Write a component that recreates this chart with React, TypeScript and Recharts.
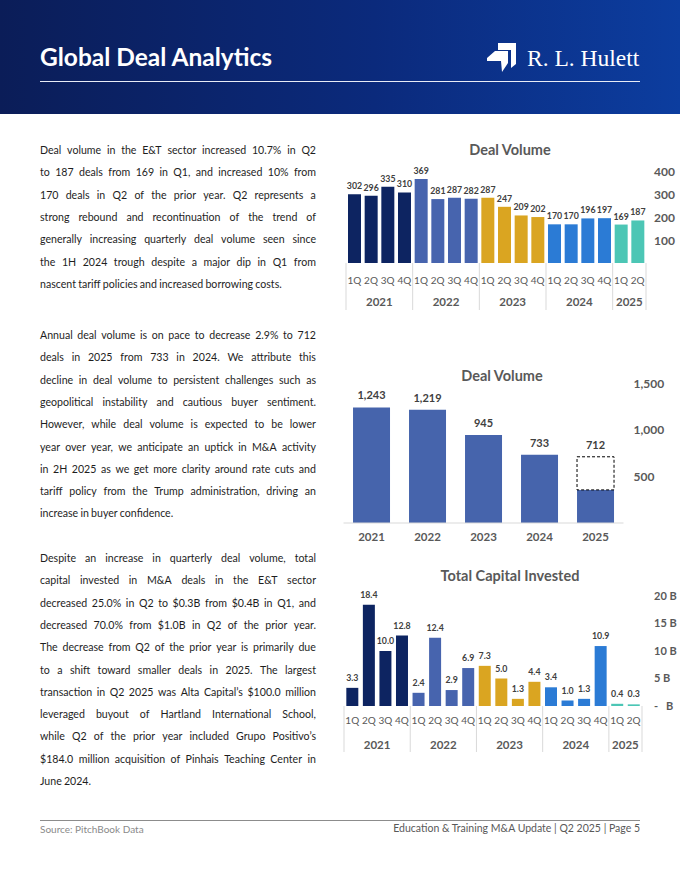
import React from 'react';
import { BarChart, Bar, XAxis, YAxis, Cell, LabelList } from 'recharts';

// quarterly series (Deal Volume + Total Capital Invested)
const quarterLabels = ['1Q', '2Q', '3Q', '4Q', '1Q', '2Q', '3Q', '4Q', '1Q', '2Q', '3Q', '4Q', '1Q', '2Q', '3Q', '4Q', '1Q', '2Q'];
const quarterYears = ['2021', '2021', '2021', '2021', '2022', '2022', '2022', '2022', '2023', '2023', '2023', '2023', '2024', '2024', '2024', '2024', '2025', '2025'];
const quarterlyDeals = [302, 296, 335, 310, 369, 281, 287, 282, 287, 247, 209, 202, 170, 170, 196, 197, 169, 187];
const capitalInvestedB = [3.3, 18.4, 10.0, 12.8, 2.4, 12.4, 2.9, 6.9, 7.3, 5.0, 1.3, 4.4, 3.4, 1.0, 1.3, 10.9, 0.4, 0.3];

// annual series
const annualYears = ['2021', '2022', '2023', '2024', '2025'];
const annualDeals = [1243, 1219, 945, 733, 356];
const annualProjected = [0, 0, 0, 0, 356];
const annualTotal = [1243, 1219, 945, 733, 712];

const dealTicks = [100, 200, 300, 400];
const annualTicks = [500, 1000, 1500];
const capitalTicks = [0, 5, 10, 15, 20];

const yearColors: Record<string, string> = {
  '2021': '#0d2461',
  '2022': '#4764ae',
  '2023': '#daa521',
  '2024': '#2b7bd5',
  '2025': '#4cc6b5',
};

const quarterData = quarterLabels.map((q, i) => ({
  id: `${quarterYears[i]}-${q}`,
  year: quarterYears[i],
  deals: quarterlyDeals[i],
  capital: capitalInvestedB[i],
}));

const annualData = annualYears.map((y, i) => ({
  year: y,
  actual: annualDeals[i],
  projected: annualProjected[i],
  total: annualTotal[i],
}));

const FONT = 'Lato, "Open Sans", sans-serif';
const GRAY = '#595959';

const para1 = [
  'Deal volume in the E&T sector increased 10.7% in Q2',
  'to 187 deals from 169 in Q1, and increased 10% from',
  '170 deals in Q2 of the prior year. Q2 represents a',
  'strong rebound and recontinuation of the trend of',
  'generally increasing quarterly deal volume seen since',
  'the 1H 2024 trough despite a major dip in Q1 from',
  'nascent tariff policies and increased borrowing costs.',
];
const para2 = [
  'Annual deal volume is on pace to decrease 2.9% to 712',
  'deals in 2025 from 733 in 2024. We attribute this',
  'decline in deal volume to persistent challenges such as',
  'geopolitical instability and cautious buyer sentiment.',
  'However, while deal volume is expected to be lower',
  'year over year, we anticipate an uptick in M&A activity',
  'in 2H 2025 as we get more clarity around rate cuts and',
  'tariff policy from the Trump administration, driving an',
  'increase in buyer confidence.',
];
const para3 = [
  'Despite an increase in quarterly deal volume, total',
  'capital invested in M&A deals in the E&T sector',
  'decreased 25.0% in Q2 to $0.3B from $0.4B in Q1, and',
  'decreased 70.0% from $1.0B in Q2 of the prior year.',
  'The decrease from Q2 of the prior year is primarily due',
  'to a shift toward smaller deals in 2025. The largest',
  'transaction in Q2 2025 was Alta Capital\u2019s $100.0 million',
  'leveraged buyout of Hartland International School,',
  'while Q2 of the prior year included Grupo Positivo\u2019s',
  '$184.0 million acquisition of Pinhais Teaching Center in',
  'June 2024.',
];

function Paragraph({ lines, top }: { lines: string[]; top: number }) {
  return (
    <>
      {lines.map((line, i) => {
        const last = i === lines.length - 1;
        return (
          <div
            key={i}
            style={{
              position: 'absolute',
              left: 40,
              top: top + i * 22.3 - 8,
              width: 276,
              height: 16,
              lineHeight: '16px',
              fontSize: 10.6,
              color: '#1e1e1e',
              display: 'flex',
              justifyContent: last ? 'flex-start' : 'space-between',
              gap: last ? 2.2 : 0,
              whiteSpace: 'nowrap',
            }}
          >
            {line.split(' ').map((w, j) => (
              <span key={j}>{w}</span>
            ))}
          </div>
        );
      })}
    </>
  );
}

// two-level category tick: quarter label, year label and group separators
function GroupTick(props: any) {
  const { x, y, index, payload, qDy, yearDy, lineLen, band } = props;
  const i = typeof index === 'number' ? index : payload.index;
  const half = payload && payload.offset > 0 ? payload.offset : band / 2;
  const year = quarterYears[i];
  const isStart = i === 0 || quarterYears[i - 1] !== year;
  const isEnd = i === quarterYears.length - 1;
  let groupSize = 0;
  if (isStart) {
    for (let j = i; j < quarterYears.length && quarterYears[j] === year; j++) groupSize++;
  }
  return (
    <g>
      <text x={x} y={y + qDy} textAnchor="middle" fontSize={10} fill={GRAY}>
        {quarterLabels[i]}
      </text>
      {isStart && <line x1={x - half} x2={x - half} y1={y} y2={y + lineLen} stroke="#d9d9d9" />}
      {isStart && (
        <text x={x - half + groupSize * half} y={y + yearDy} textAnchor="middle" fontSize={11.5} fontWeight={700} fill={GRAY}>
          {year}
        </text>
      )}
      {isEnd && <line x1={x + half} x2={x + half} y1={y} y2={y + lineLen} stroke="#d9d9d9" />}
    </g>
  );
}

function Title({ text, cx, top }: { text: string; cx: number; top: number }) {
  return (
    <div
      style={{
        position: 'absolute',
        left: cx - 120,
        top,
        width: 240,
        textAlign: 'center',
        fontSize: 14.5,
        fontWeight: 700,
        color: GRAY,
        lineHeight: '18px',
      }}
    >
      {text}
    </div>
  );
}

const axisTick = { fontSize: 12, fontWeight: 700, fill: GRAY };
const labelStyle = { fontSize: 8.8, fontWeight: 700, fill: '#404040' };

// annual labels: actual bars carry the label unless a projection is stacked on top
function AnnualLabel(props: any) {
  const { x, y, width, index, value } = props;
  if (annualProjected[index] > 0) return null;
  return (
    <text x={x + width / 2} y={y - 8} textAnchor="middle" fontSize={11} fontWeight={700} fill="#404040">
      {Number(value).toLocaleString('en-US')}
    </text>
  );
}

export default function App() {
  return (
    <div
      style={{
        position: 'absolute',
        left: 0,
        top: 0,
        width: 680,
        height: 880,
        overflow: 'hidden',
        background: '#ffffff',
        fontFamily: FONT,
      }}
    >
      {/* header */}
      <div
        style={{
          position: 'absolute',
          left: 0,
          top: 0,
          width: 680,
          height: 114,
          background: 'linear-gradient(90deg, #0b1d58 0%, #0b2a7c 55%, #0c3d9f 100%)',
        }}
      />
      <div style={{ position: 'absolute', left: 40, top: 42, fontSize: 24.5, fontWeight: 700, color: '#fff', lineHeight: '30px', whiteSpace: 'nowrap' }}>
        Global Deal Analytics
      </div>
      <div style={{ position: 'absolute', left: 40, top: 81, width: 600, height: 1, background: '#e8ecf6' }} />
      <svg style={{ position: 'absolute', left: 0, top: 0 }} width={680} height={114}>
        <polygon points="498,43 516,43 516,64 511,68 511,50 498,50" fill="#fff" />
        <polygon points="487,58 495,51 508,51 508,63 502,72 501,61 487,61" fill="#fff" />
      </svg>
      <div
        style={{
          position: 'absolute',
          left: 527,
          top: 45,
          fontSize: 23.5,
          color: '#fff',
          fontFamily: '"Liberation Serif", "DejaVu Serif", serif',
          lineHeight: '27px',
          whiteSpace: 'nowrap',
        }}
      >
        R. L. Hulett
      </div>

      {/* text column */}
      <Paragraph lines={para1} top={150} />
      <Paragraph lines={para2} top={335} />
      <Paragraph lines={para3} top={558} />

      {/* quarterly deal volume */}
      <Title text="Deal Volume" cx={510} top={141} />
      <div style={{ position: 'absolute', left: 340, top: 135 }}>
        <BarChart width={340} height={175} data={quarterData} margin={{ top: 37, right: 0, left: 6, bottom: 0 }} barCategoryGap="12%">
          <XAxis
            dataKey="id"
            height={47}
            interval={0}
            axisLine={false}
            tickLine={false}
            tickSize={0}
            tickMargin={0}
            tick={(p: any) => <GroupTick {...p} qDy={21} yearDy={43} lineLen={47} band={303 / 18} />}
          />
          <YAxis
            orientation="right"
            width={34}
            domain={[0, 400]}
            ticks={dealTicks}
            axisLine={false}
            tickLine={false}
            tick={axisTick}
          />
          <Bar dataKey="deals" isAnimationActive={false}>
            {quarterData.map((d) => (
              <Cell key={d.id} fill={yearColors[d.year]} />
            ))}
            <LabelList dataKey="deals" position="top" offset={5} style={labelStyle} />
          </Bar>
        </BarChart>
      </div>

      {/* annual deal volume */}
      <Title text="Deal Volume" cx={502} top={367} />
      <div style={{ position: 'absolute', left: 340, top: 360 }}>
        <BarChart width={340} height={188} data={annualData} margin={{ top: 23.5, right: 16.5, left: 3.5, bottom: 0 }} barCategoryGap="17%">
          <XAxis
            dataKey="year"
            height={25}
            axisLine={{ stroke: '#d9d9d9' }}
            tickLine={false}
            tickMargin={4}
            tick={{ fontSize: 11.5, fontWeight: 700, fill: GRAY }}
          />
          <YAxis
            orientation="right"
            width={40}
            domain={[0, 1500]}
            ticks={annualTicks}
            axisLine={false}
            tickLine={false}
            tickMargin={4}
            tick={axisTick}
            tickFormatter={(v: number) => v.toLocaleString('en-US')}
          />
          <Bar dataKey="actual" stackId="a" fill="#4664ac" isAnimationActive={false}>
            <LabelList dataKey="total" content={AnnualLabel} />
          </Bar>
          <Bar dataKey="projected" stackId="a" fill="#ffffff" stroke="#000000" strokeDasharray="3 2" strokeWidth={1} isAnimationActive={false}>
            <LabelList
              dataKey="total"
              position="top"
              offset={8}
              style={{ fontSize: 11, fontWeight: 700, fill: '#404040' }}
              formatter={(v: any) => Number(v).toLocaleString('en-US')}
            />
          </Bar>
        </BarChart>
      </div>

      {/* total capital invested */}
      <Title text="Total Capital Invested" cx={510} top={567} />
      <div style={{ position: 'absolute', left: 340, top: 560 }}>
        <BarChart width={340} height={193} data={quarterData} margin={{ top: 36, right: 0, left: 4, bottom: 0 }} barCategoryGap="14%">
          <XAxis
            dataKey="id"
            height={47}
            interval={0}
            axisLine={false}
            tickLine={false}
            tickSize={0}
            tickMargin={0}
            tick={(p: any) => <GroupTick {...p} qDy={18} yearDy={43} lineLen={46} band={298 / 18} />}
          />
          <YAxis
            orientation="right"
            width={38}
            domain={[0, 20]}
            ticks={capitalTicks}
            axisLine={false}
            tickLine={false}
            tickMargin={6}
            tick={{ fontSize: 11, fontWeight: 700, fill: GRAY }}
            tickFormatter={(v: number) => (v === 0 ? '-\u00a0\u00a0\u00a0B' : `${v} B`)}
          />
          <Bar dataKey="capital" isAnimationActive={false}>
            {quarterData.map((d) => (
              <Cell key={d.id} fill={yearColors[d.year]} />
            ))}
            <LabelList
              dataKey="capital"
              position="top"
              offset={7}
              style={labelStyle}
              formatter={(v: any) => Number(v).toFixed(1)}
            />
          </Bar>
        </BarChart>
      </div>

      {/* footer */}
      <div style={{ position: 'absolute', left: 40, top: 820, width: 600, height: 1, background: '#8c8c8c' }} />
      <div style={{ position: 'absolute', left: 40, top: 823, fontSize: 10, color: '#8a8a8a', lineHeight: '12px' }}>
        Source: PitchBook Data
      </div>
      <div style={{ position: 'absolute', right: 40, top: 822, fontSize: 10.5, color: GRAY, lineHeight: '12px', whiteSpace: 'nowrap' }}>
        Education &amp; Training M&amp;A Update | Q2 2025 | Page 5
      </div>
    </div>
  );
}
